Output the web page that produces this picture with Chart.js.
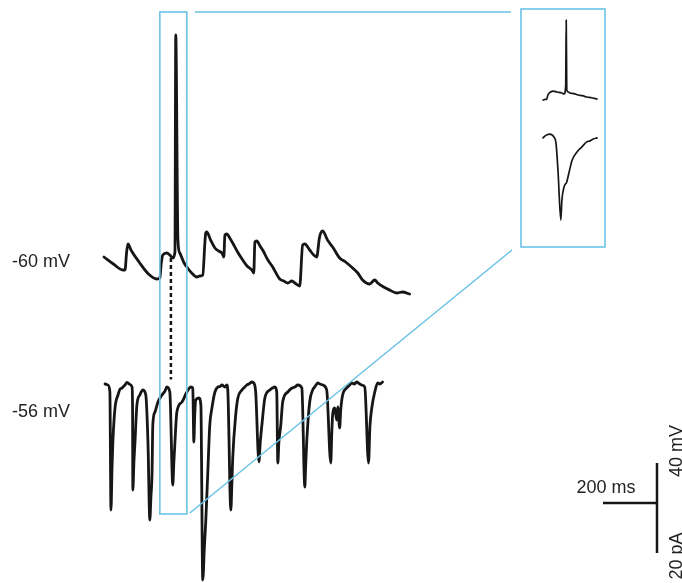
<!DOCTYPE html>
<html>
<head>
<meta charset="utf-8">
<script src="https://cdn.jsdelivr.net/npm/chart.js@4"></script>
<style>
  body { margin: 0; background: #fff; }
  canvas { display: block; }
</style>
</head>
<body>
<canvas id="trace" width="682" height="583"></canvas>
<script>
"use strict";

// Current-clamp trace (mV), time in ms from start of sweep
var vmTime = [0, 35, 70, 78, 84, 89, 100, 130, 165, 196, 207, 212, 218, 233, 244, 255, 263, 266, 274, 281, 295, 307, 325, 344, 355, 366, 374, 377, 381,
  395, 411, 425, 437, 444, 448, 455, 466, 477, 495, 514, 530, 548, 555, 559, 566, 578, 588, 605, 625, 651, 666, 681, 696, 707, 725, 736, 744,
  762, 777, 788, 798, 803, 810, 828, 847, 873, 895, 921, 940, 958, 984, 1003, 1014, 1036, 1058, 1084, 1106, 1132];
var vmValue = [-55, -62, -68, -68, -50, -42, -48, -60, -72, -77, -76, -62, -53, -51, -53, -56, -50, 167, -38, -51, -60, -65, -71, -75, -74, -73, -40, -31, -30,
  -38, -46, -49, -51, -55, -33, -32, -36, -41, -50, -58, -64, -68, -71, -40, -39, -44, -48, -57, -65, -77, -79, -81, -79, -81, -84, -43, -42,
  -48, -53, -55, -36, -31, -29, -38, -45, -56, -60, -66, -71, -78, -82, -78, -81, -85, -88, -91, -90, -92];

// Voltage-clamp trace (pA) held at -56 mV
var imTime = [4, 15, 22, 26, 30, 33, 41, 52, 60, 67, 74, 78, 85, 89, 97, 104, 106, 107, 111, 115, 122, 133, 144, 155, 163, 170,
  174, 178, 181, 189, 200, 215, 226, 233, 244, 255, 259, 263, 270, 289, 307, 322, 329, 333, 336, 340, 352, 359, 366, 372, 377,
  385, 392, 400, 411, 422, 430, 437, 448, 455, 459, 470, 474, 477, 488, 496, 511, 520, 529, 540, 548, 555, 562, 574, 579, 585,
  596, 614, 624, 633, 640, 644, 648, 655, 662, 681, 694, 707, 718, 733, 744, 747, 751, 762, 773, 783, 792, 800, 810, 825, 840, 844, 847,
  855, 862, 866, 873, 877, 884, 899, 908, 918, 927, 936, 945, 955, 966, 980, 985, 992, 1003, 1014, 1022, 1032];
var imValue = [-0.8, -1.2, -4, -51.2, -34, -24, -10.4, -5.2, -2.8, -2.4, -1.6, -1.2, -0.2, -0.4, -1, -2, -10.4, -43.2, -32, -24, -9.2, -5.2, -3.2, -5.2, -24, -55.2,
  -46, -37.2, -17.2, -12, -8, -5.2, -3.6, -2, -4, -41.2, -32, -24, -12, -8, -4, -2, -2.4, -24, -14, -7.2, -6.4, -9.2, -79.2, -66, -56,
  -35.2, -17.2, -10.4, -4, -2, -1.8, -1.2, -2, -1.2, -4, -51.2, -40, -30.4, -13.2, -6.4, -3.2, -2.2, -1.2, -0.6, 0, -0.4, -4, -32, -24, -17.2,
  -6.4, -3.2, -2.4, -2, -4, -32.4, -24, -17.2, -8, -4, -2.6, -2, -1.2, -2.4, -42, -34, -24, -8, -3.2, -1.6, -0.4, -0.8, -1.2, -3.2, -32.4, -20, -13.2,
  -10.4, -15.2, -10, -18.4, -11.2, -5.2, -2.4, -1.4, -0.4, -0.8, 0, -0.6, -1.2, -2, -32.4, -18, -10.4, -4, -0.4, -0.8, 0];

// Expanded 100 ms window (inset)
var insetVmTime = [0, 4, 7, 9, 14, 19, 26, 35, 39, 42, 43, 44, 47, 50, 57, 65, 73, 81, 90, 100];
var insetVmValue = [-74.5, -73, -72, -62.3, -55, -52.6, -55, -57.4, -59.9, -40, 120.7, -50.1, -55, -57.4, -59, -62.3, -64, -67.2, -69, -72.1];
var insetImTime = [0, 4, 7, 12, 17, 20, 24, 28, 33, 35, 39, 44, 48, 54, 63, 72, 81, 87, 93, 100];
var insetImValue = [-2.4, -1.4, -1, -0.6, -1, -1.9, -4.8, -19.2, -41.8, -32.2, -25.9, -23.5, -19.2, -13, -9.1, -6.7, -4.3, -3.8, -2.9, -2.4];

// Window shown in the inset, ms
var zoomWindow = [207, 307];
// Dashed marker linking spike onset in both traces
var onsetTime = 248;
var onsetFrom = -56;   // mV
var onsetTo = 1;       // pA

var holdingLabels = ["-60 mV", "-56 mV"];
var scaleBar = { ms: 200, mV: 40, pA: 20 };

function toPoints(xs, ys) {
  return xs.map(function (x, i) { return { x: x, y: ys[i] }; });
}

var ink = "#161616";
var blue = "#6cc3e6";

var overlay = {
  id: "overlay",
  afterDatasetsDraw: function (chart) {
    var c = chart.ctx;
    var s = chart.scales;
    c.save();

    // dashed onset marker
    var xd = s.x.getPixelForValue(onsetTime);
    c.strokeStyle = ink;
    c.lineWidth = 2.5;
    c.setLineDash([4, 3]);
    c.beginPath();
    c.moveTo(xd, s.yV.getPixelForValue(onsetFrom));
    c.lineTo(xd, s.yI.getPixelForValue(onsetTo));
    c.stroke();
    c.setLineDash([]);

    // window box and inset box
    var bx0 = s.x.getPixelForValue(zoomWindow[0]);
    var bx1 = s.x.getPixelForValue(zoomWindow[1]);
    c.strokeStyle = blue;
    c.lineWidth = 1.6;
    c.strokeRect(bx0, 12, bx1 - bx0, 502);
    c.strokeRect(521, 9, 84, 238);
    c.beginPath();
    c.moveTo(bx1 + 8, 12);
    c.lineTo(511, 12);
    c.moveTo(bx1 + 3, 513);
    c.lineTo(512, 250);
    c.stroke();

    // holding potential labels
    c.fillStyle = "#222";
    c.font = "18px 'Liberation Sans', Arial, sans-serif";
    c.textBaseline = "alphabetic";
    c.textAlign = "left";
    c.fillText(holdingLabels[0], 12, 267);
    c.fillText(holdingLabels[1], 12, 417);

    // scale bars
    var cx = 657, cy = 503;
    var wx = s.x.getPixelForValue(scaleBar.ms) - s.x.getPixelForValue(0);
    var hv = s.yV.getPixelForValue(0) - s.yV.getPixelForValue(scaleBar.mV);
    var hi = s.yI.getPixelForValue(-scaleBar.pA) - s.yI.getPixelForValue(0);
    c.strokeStyle = ink;
    c.lineWidth = 2.5;
    c.beginPath();
    c.moveTo(cx - wx, cy);
    c.lineTo(cx, cy);
    c.moveTo(cx, cy - hv);
    c.lineTo(cx, cy + hi);
    c.stroke();
    c.textAlign = "center";
    c.fillText(scaleBar.ms + " ms", 606, 493);
    c.save();
    c.translate(682, cy - hv - 12);
    c.rotate(-Math.PI / 2);
    c.fillText(scaleBar.mV + " mV", 0, 0);
    c.restore();
    c.save();
    c.translate(682, cy + hi + 3);
    c.rotate(-Math.PI / 2);
    c.fillText(scaleBar.pA + " pA", 0, 0);
    c.restore();

    c.restore();
  }
};

function traceSet(data, xAxis, yAxis, width) {
  return {
    data: data,
    xAxisID: xAxis,
    yAxisID: yAxis,
    showLine: true,
    borderColor: ink,
    borderWidth: width,
    pointRadius: 0,
    cubicInterpolationMode: "monotone",
    fill: false,
    clip: false,
    borderJoinStyle: "round",
    borderCapStyle: "round"
  };
}

var hidden = function (min, max) {
  return { type: "linear", display: false, min: min, max: max };
};

new Chart(document.getElementById("trace"), {
  type: "scatter",
  data: {
    datasets: [
      traceSet(toPoints(vmTime, vmValue), "x", "yV", 2.8),
      traceSet(toPoints(imTime, imValue), "x", "yI", 2.8),
      traceSet(toPoints(insetVmTime, insetVmValue), "xIn", "yInV", 1.7),
      traceSet(toPoints(insetImTime, insetImValue), "xIn", "yInI", 1.7)
    ]
  },
  options: {
    responsive: false,
    animation: false,
    layout: { padding: 0 },
    plugins: { legend: { display: false }, tooltip: { enabled: false } },
    scales: {
      x: hidden(-385, 2141),
      yV: hidden(-381, 202),
      yI: hidden(-80.4, 152.8),
      xIn: hidden(-1005.6, 257.4),
      yInV: hidden(-1253, 169.5),
      yInI: hidden(-216, 63.8)
    }
  },
  plugins: [overlay]
});
</script>
</body>
</html>
